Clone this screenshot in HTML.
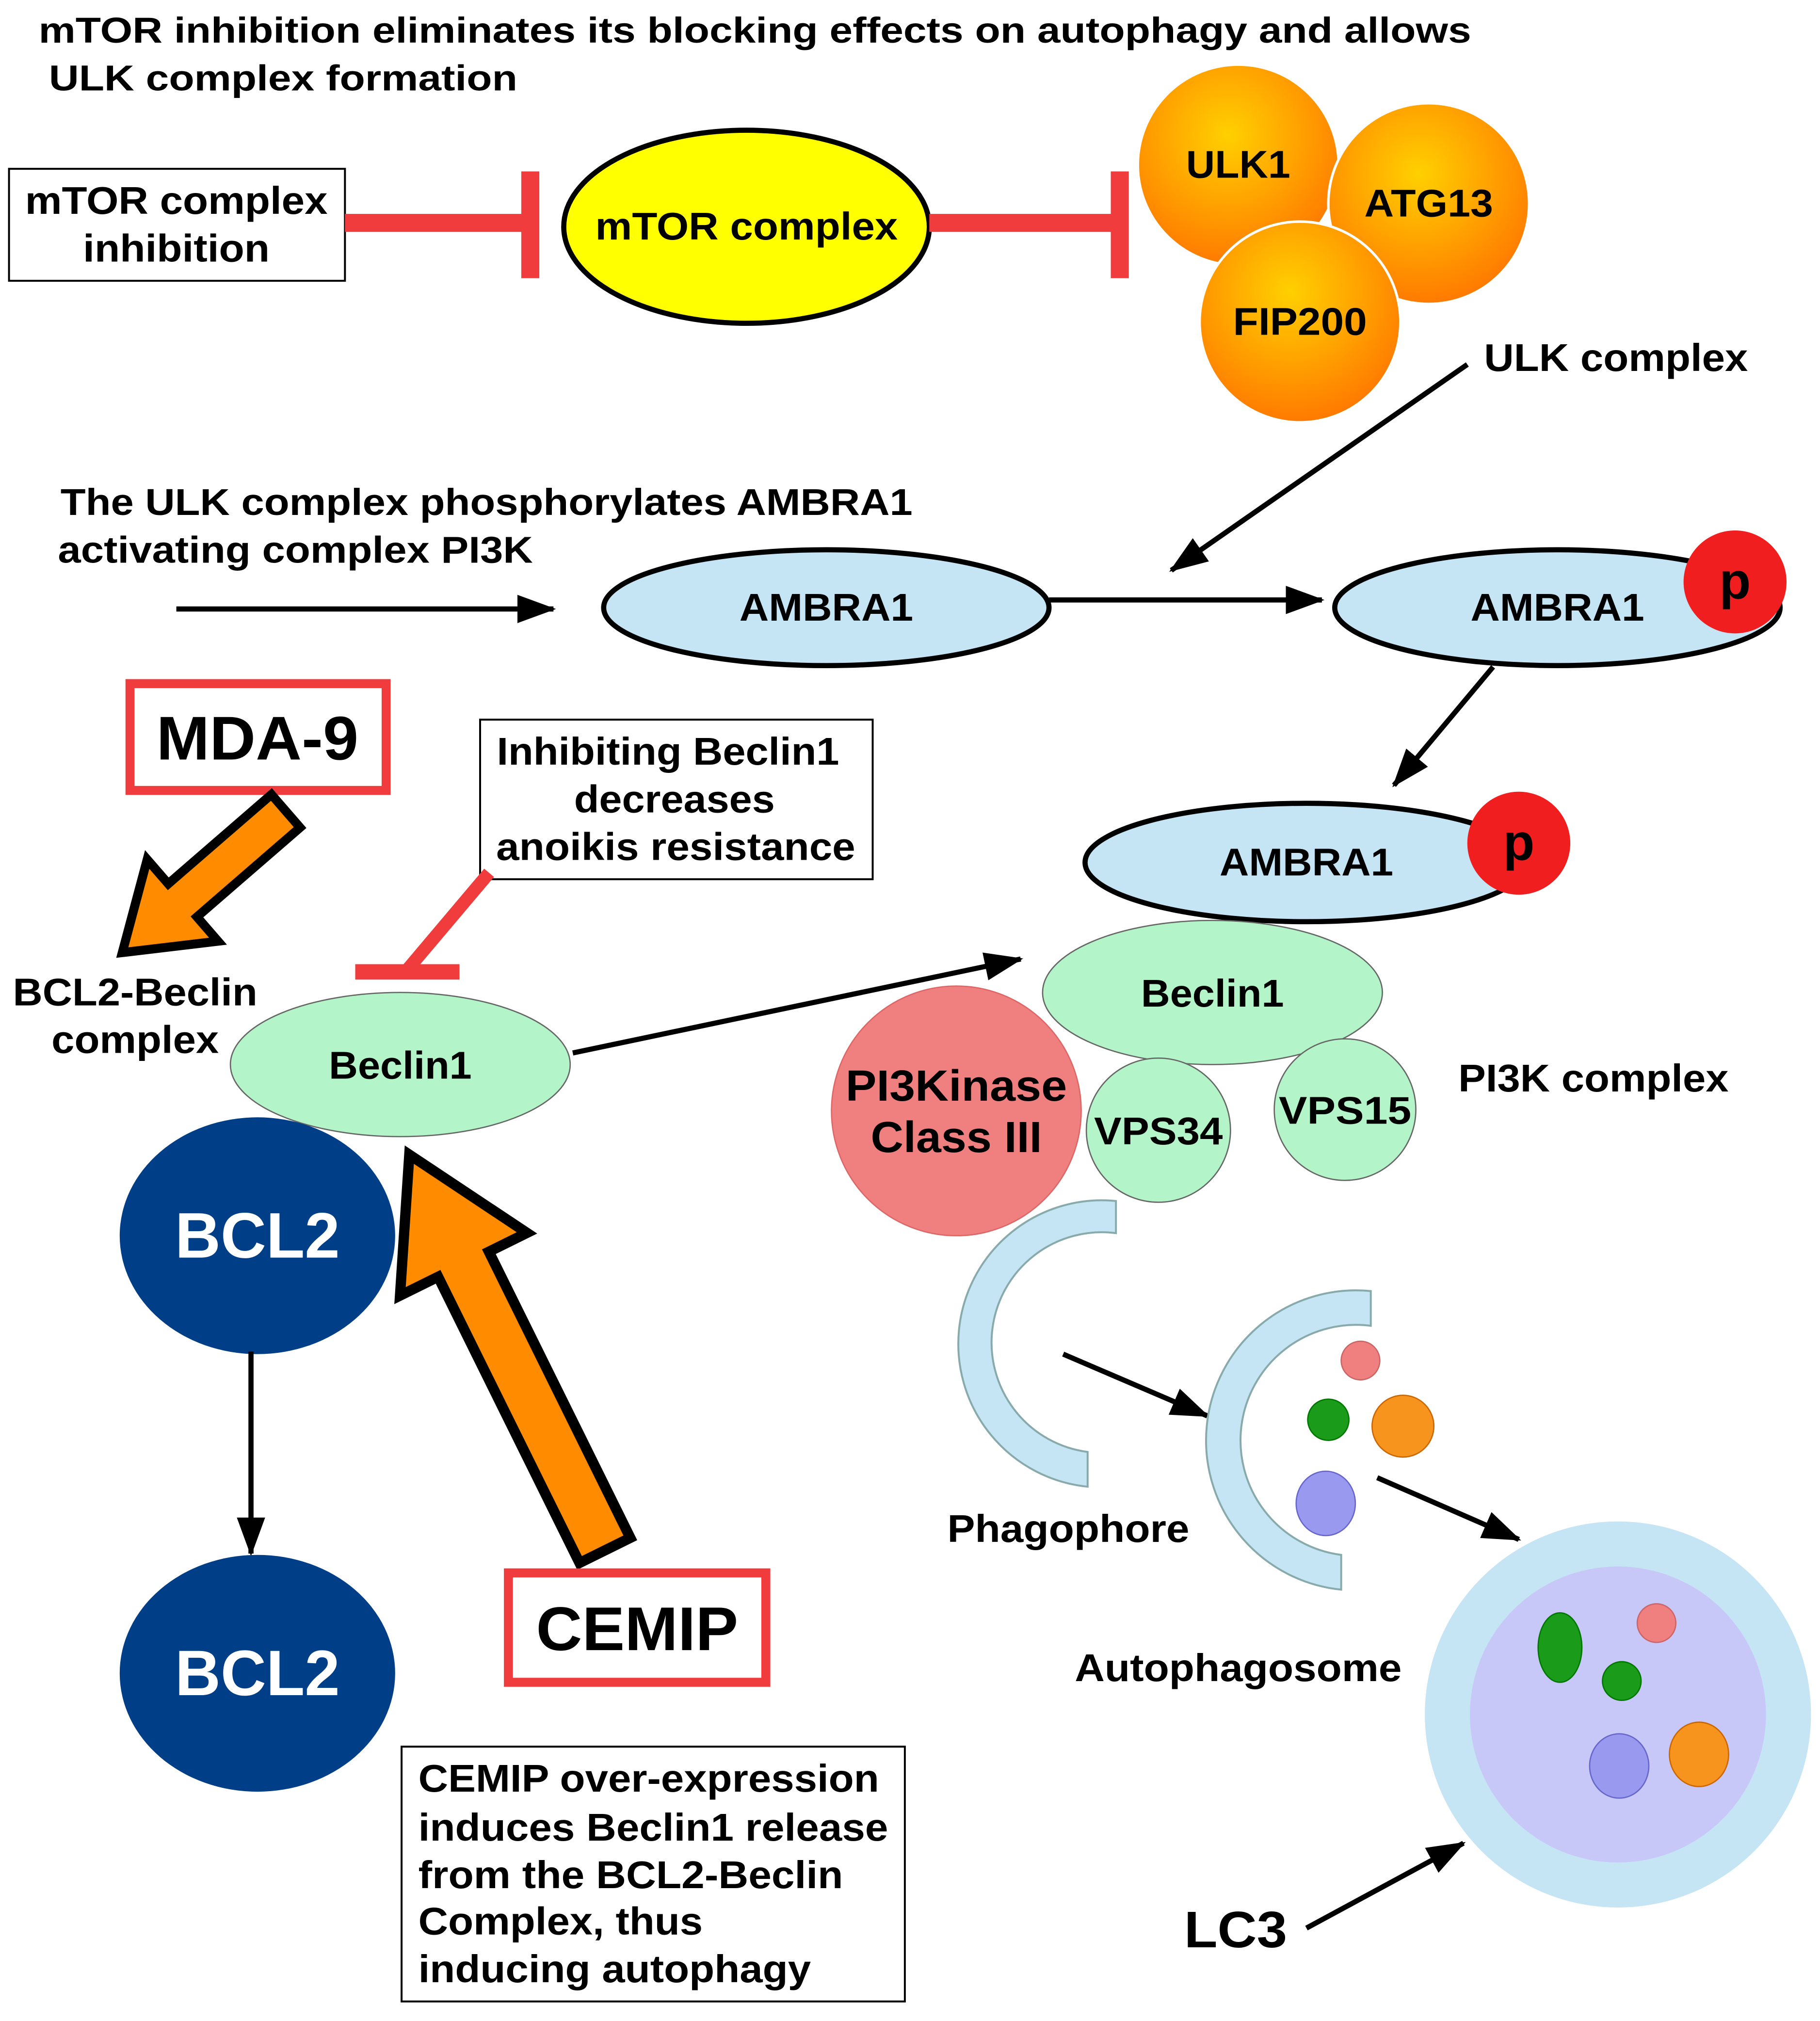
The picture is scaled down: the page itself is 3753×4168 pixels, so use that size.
<!DOCTYPE html>
<html><head><meta charset="utf-8"><style>html,body{margin:0;padding:0;background:#fff}svg{display:block}text{font-family:"Liberation Sans",Arial,sans-serif;font-weight:bold}</style></head>
<body>
<svg width="3753" height="4168" viewBox="0 0 1414 1570" xmlns="http://www.w3.org/2000/svg">
<defs>
<marker id="ah" markerWidth="30" markerHeight="22" refX="28" refY="11" orient="auto" markerUnits="userSpaceOnUse" viewBox="0 0 30 22"><path d="M0,0 L30,11 L0,22 Z" fill="#000"/></marker>
<radialGradient id="og" cx="45%" cy="35%" r="65%"><stop offset="0" stop-color="#ffd000"/><stop offset="0.6" stop-color="#ff9d00"/><stop offset="1" stop-color="#ff7a00"/></radialGradient>
</defs>
<style>.a{stroke:#000;stroke-width:4;fill:none}</style>
<rect width="1414" height="1570" fill="#fff"/>
<text x="30" y="33" font-size="28" textLength="1113" lengthAdjust="spacingAndGlyphs">mTOR inhibition eliminates its blocking effects on autophagy and allows</text>
<text x="38" y="70" font-size="28" textLength="364" lengthAdjust="spacingAndGlyphs">ULK complex formation</text>
<rect x="7" y="131" width="261" height="87" fill="#fff" stroke="#000" stroke-width="1.5"/>
<text x="137" y="166" font-size="30" text-anchor="middle" textLength="235" lengthAdjust="spacingAndGlyphs">mTOR complex</text>
<text x="137" y="203" font-size="30" text-anchor="middle" textLength="145" lengthAdjust="spacingAndGlyphs">inhibition</text>
<line x1="268" y1="173" x2="412" y2="173" stroke="#f03c3c" stroke-width="14"/>
<line x1="412" y1="133" x2="412" y2="216" stroke="#f03c3c" stroke-width="14"/>
<ellipse cx="580" cy="176" rx="142" ry="75" fill="#ffff00" stroke="#000" stroke-width="4"/>
<text x="580" y="186" font-size="30" text-anchor="middle" textLength="235" lengthAdjust="spacingAndGlyphs">mTOR complex</text>
<line x1="722" y1="173" x2="870" y2="173" stroke="#f03c3c" stroke-width="14"/>
<line x1="870" y1="133" x2="870" y2="216" stroke="#f03c3c" stroke-width="14"/>
<circle cx="962" cy="128" r="78" fill="url(#og)" stroke="#fff" stroke-width="2"/>
<circle cx="1110" cy="158" r="78" fill="url(#og)" stroke="#fff" stroke-width="2"/>
<circle cx="1010" cy="250" r="78" fill="url(#og)" stroke="#fff" stroke-width="2"/>
<text x="962" y="138" font-size="30" text-anchor="middle" textLength="81" lengthAdjust="spacingAndGlyphs">ULK1</text>
<text x="1110" y="168" font-size="30" text-anchor="middle" textLength="100" lengthAdjust="spacingAndGlyphs">ATG13</text>
<text x="1010" y="260" font-size="30" text-anchor="middle" textLength="104" lengthAdjust="spacingAndGlyphs">FIP200</text>
<text x="1153" y="288" font-size="30" textLength="205" lengthAdjust="spacingAndGlyphs">ULK complex</text>
<line x1="1140" y1="283" x2="910" y2="443" class="a" marker-end="url(#ah)"/>
<text x="47" y="400" font-size="29" textLength="662" lengthAdjust="spacingAndGlyphs">The ULK complex phosphorylates AMBRA1</text>
<text x="45" y="437" font-size="29" textLength="369" lengthAdjust="spacingAndGlyphs">activating complex PI3K</text>
<line x1="137" y1="473" x2="430" y2="473" class="a" marker-end="url(#ah)"/>
<ellipse cx="642" cy="472" rx="173" ry="45" fill="#c5e5f5" stroke="#000" stroke-width="4"/>
<text x="642" y="482" font-size="30" text-anchor="middle" textLength="135" lengthAdjust="spacingAndGlyphs">AMBRA1</text>
<line x1="815" y1="466" x2="1027" y2="466" class="a" marker-end="url(#ah)"/>
<ellipse cx="1210" cy="472" rx="173" ry="45" fill="#c5e5f5" stroke="#000" stroke-width="4"/>
<text x="1210" y="482" font-size="30" text-anchor="middle" textLength="135" lengthAdjust="spacingAndGlyphs">AMBRA1</text>
<circle cx="1348" cy="452" r="40" fill="#f01e1e"/>
<text x="1348" y="465" font-size="40" text-anchor="middle">p</text>
<line x1="1160" y1="518" x2="1083" y2="610" class="a" marker-end="url(#ah)"/>
<ellipse cx="1015" cy="670" rx="172" ry="46" fill="#c5e5f5" stroke="#000" stroke-width="4"/>
<text x="1015" y="680" font-size="30" text-anchor="middle" textLength="135" lengthAdjust="spacingAndGlyphs">AMBRA1</text>
<circle cx="1180" cy="655" r="40" fill="#f01e1e"/>
<text x="1180" y="668" font-size="40" text-anchor="middle">p</text>
<ellipse cx="942" cy="771" rx="132" ry="56" fill="#b3f5c8" stroke="#666" stroke-width="1"/>
<text x="942" y="782" font-size="30" text-anchor="middle" textLength="111" lengthAdjust="spacingAndGlyphs">Beclin1</text>
<circle cx="743" cy="863" r="97" fill="#f08080" stroke="#d66" stroke-width="1"/>
<text x="743" y="855" font-size="34" text-anchor="middle" textLength="172" lengthAdjust="spacingAndGlyphs">PI3Kinase</text>
<text x="743" y="895" font-size="34" text-anchor="middle" textLength="133" lengthAdjust="spacingAndGlyphs">Class III</text>
<circle cx="900" cy="878" r="56" fill="#b3f5c8" stroke="#666" stroke-width="1"/>
<text x="900" y="889" font-size="30" text-anchor="middle" textLength="100" lengthAdjust="spacingAndGlyphs">VPS34</text>
<circle cx="1045" cy="862" r="55" fill="#b3f5c8" stroke="#666" stroke-width="1"/>
<text x="1045" y="873" font-size="30" text-anchor="middle" textLength="103" lengthAdjust="spacingAndGlyphs">VPS15</text>
<text x="1133" y="848" font-size="30" textLength="210" lengthAdjust="spacingAndGlyphs">PI3K complex</text>
<path d="M867,933 L867,958 A10,10 0 0 0 845,1128 L845,1155 A10,10 0 0 1 867,933 Z" fill="#c5e5f5" stroke="#8aa" stroke-width="1.5"/>
<text x="736" y="1198" font-size="30" textLength="188" lengthAdjust="spacingAndGlyphs">Phagophore</text>
<line x1="826" y1="1052" x2="938" y2="1100" class="a" marker-end="url(#ah)"/>
<path d="M1065,1003 L1065,1030 A10,10 0 0 0 1042,1208 L1042,1235 A10,10 0 0 1 1065,1003 Z" fill="#c5e5f5" stroke="#8aa" stroke-width="1.5"/>
<circle cx="1057" cy="1057" r="15" fill="#f08080" stroke="#c66" stroke-width="1"/>
<circle cx="1032" cy="1103" r="16" fill="#1a9c1a" stroke="#070" stroke-width="1"/>
<circle cx="1090" cy="1108" r="24" fill="#f7941d" stroke="#c60" stroke-width="1"/>
<ellipse cx="1030" cy="1168" rx="23" ry="25" fill="#9999f0" stroke="#66c" stroke-width="1"/>
<text x="835" y="1306" font-size="30" textLength="254" lengthAdjust="spacingAndGlyphs">Autophagosome</text>
<line x1="1070" y1="1148" x2="1180" y2="1196" class="a" marker-end="url(#ah)"/>
<circle cx="1257" cy="1332" r="150" fill="#c5e5f5"/>
<circle cx="1257" cy="1332" r="115" fill="#c8c8f8"/>
<ellipse cx="1212" cy="1280" rx="17" ry="27" fill="#1a9c1a" stroke="#070" stroke-width="1"/>
<circle cx="1287" cy="1261" r="15" fill="#f08080" stroke="#c66" stroke-width="1"/>
<circle cx="1260" cy="1306" r="15" fill="#1a9c1a" stroke="#070" stroke-width="1"/>
<ellipse cx="1258" cy="1372" rx="23" ry="25" fill="#9999f0" stroke="#66c" stroke-width="1"/>
<ellipse cx="1320" cy="1363" rx="23" ry="25" fill="#f7941d" stroke="#c60" stroke-width="1"/>
<text x="920" y="1513" font-size="40" textLength="80" lengthAdjust="spacingAndGlyphs">LC3</text>
<line x1="1015" y1="1498" x2="1137" y2="1432" class="a" marker-end="url(#ah)"/>
<rect x="101" y="531" width="199" height="83" fill="#fff" stroke="#f03c3c" stroke-width="7"/>
<text x="200" y="590" font-size="48" text-anchor="middle" textLength="157" lengthAdjust="spacingAndGlyphs">MDA-9</text>
<g transform="translate(95,740) rotate(139.1)"><polygon points="0,0 -62,-42 -62,-17 -168,-17 -168,17 -62,17 -62,42" fill="#ff8c00" stroke="#000" stroke-width="7"/></g>
<text x="10" y="781" font-size="30" textLength="190" lengthAdjust="spacingAndGlyphs">BCL2-Beclin</text>
<text x="40" y="818" font-size="30" textLength="130" lengthAdjust="spacingAndGlyphs">complex</text>
<rect x="373" y="559" width="305" height="124" fill="#fff" stroke="#000" stroke-width="1.5"/>
<text x="519" y="594" font-size="30" text-anchor="middle" textLength="266" lengthAdjust="spacingAndGlyphs">Inhibiting Beclin1</text>
<text x="524" y="631" font-size="30" text-anchor="middle" textLength="156" lengthAdjust="spacingAndGlyphs">decreases</text>
<text x="525" y="668" font-size="30" text-anchor="middle" textLength="279" lengthAdjust="spacingAndGlyphs">anoikis resistance</text>
<line x1="380" y1="678" x2="315" y2="755" stroke="#f03c3c" stroke-width="10"/>
<line x1="276" y1="755" x2="357" y2="755" stroke="#f03c3c" stroke-width="12"/>
<ellipse cx="311" cy="827" rx="132" ry="56" fill="#b3f5c8" stroke="#666" stroke-width="1"/>
<text x="311" y="838" font-size="30" text-anchor="middle" textLength="111" lengthAdjust="spacingAndGlyphs">Beclin1</text>
<line x1="445" y1="818" x2="793" y2="745" class="a" marker-end="url(#ah)"/>
<ellipse cx="200" cy="960" rx="107" ry="92" fill="#003f87"/>
<text x="200" y="977" font-size="50" text-anchor="middle" fill="#fff" textLength="128" lengthAdjust="spacingAndGlyphs">BCL2</text>
<line x1="195" y1="1050" x2="195" y2="1207" class="a" marker-end="url(#ah)"/>
<ellipse cx="200" cy="1300" rx="107" ry="92" fill="#003f87"/>
<text x="200" y="1317" font-size="50" text-anchor="middle" fill="#fff" textLength="128" lengthAdjust="spacingAndGlyphs">BCL2</text>
<g transform="translate(318,897) rotate(-116.3)"><polygon points="0,0 -95,-55 -95,-22 -343,-22 -343,22 -95,22 -95,55" fill="#ff8c00" stroke="#000" stroke-width="8"/></g>
<rect x="395" y="1222" width="200" height="85" fill="#fff" stroke="#f03c3c" stroke-width="7"/>
<text x="495" y="1282" font-size="48" text-anchor="middle" textLength="157" lengthAdjust="spacingAndGlyphs">CEMIP</text>
<rect x="312" y="1357" width="391" height="198" fill="#fff" stroke="#000" stroke-width="1.5"/>
<text x="325" y="1392" font-size="30" textLength="358" lengthAdjust="spacingAndGlyphs">CEMIP over-expression</text>
<text x="325" y="1430" font-size="30" textLength="365" lengthAdjust="spacingAndGlyphs">induces Beclin1 release</text>
<text x="325" y="1467" font-size="30" textLength="330" lengthAdjust="spacingAndGlyphs">from the BCL2-Beclin</text>
<text x="325" y="1503" font-size="30" textLength="221" lengthAdjust="spacingAndGlyphs">Complex, thus</text>
<text x="325" y="1540" font-size="30" textLength="305" lengthAdjust="spacingAndGlyphs">inducing autophagy</text>
</svg>
</body></html>
